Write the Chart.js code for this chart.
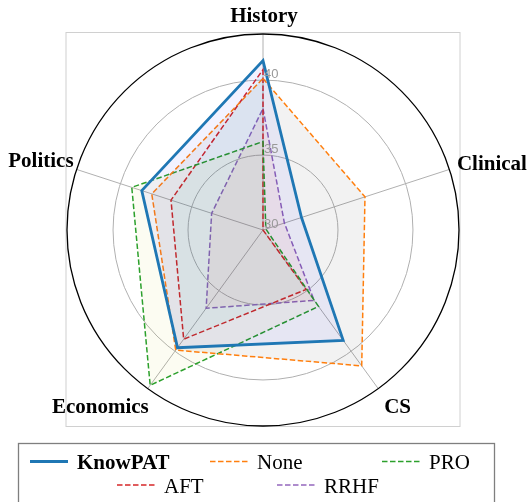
<!DOCTYPE html>
<html><head><meta charset="utf-8">
<script src="https://cdn.jsdelivr.net/npm/chart.js@4/dist/chart.umd.min.js"></script>
<style>html,body{margin:0;padding:0;background:#fff;} canvas{display:block;}</style>
</head><body>
<canvas id="c" width="529" height="502"></canvas>
<script>
const categories = ['History', 'Clinical', 'CS', 'Economics', 'Politics'];
const seriesNames = ['KnowPAT', 'None', 'PRO', 'AFT', 'RRHF'];
const knowpatValues = [41.3, 32.7, 39.1, 39.7, 38.5];
const noneValues = [40.1, 37.15, 41.2, 39.9, 37.8];
const proValues = [35.9, 30.2, 36.3, 42.8, 39.2];
const aftValues = [40.7, 30.0, 34.9, 39.0, 36.45];
const rrhfValues = [38.1, 31.5, 35.8, 36.45, 33.6];
const tickValues = [30, 35, 40];
const rMin = 30, rMax = 43.07;

const lineColors = ['#1f77b4', '#ff7f0e', '#2ca02c', '#d62728', '#9467bd'];
const fillColors = ['rgba(0,0,255,0.05)', 'rgba(0,0,0,0.05)', 'rgba(191,191,0,0.05)', 'rgba(0,191,191,0.05)', 'rgba(255,0,0,0.05)'];
const allValues = [knowpatValues, noneValues, proValues, aftValues, rrhfValues];

const datasets = seriesNames.map((name, i) => ({
  label: name,
  data: allValues[i],
  borderColor: lineColors[i],
  backgroundColor: fillColors[i],
  borderWidth: i === 0 ? 2.8 : 1.5,
  borderDash: i === 0 ? [] : [5.5, 2.5],
  fill: true,
  order: i,
  pointRadius: 0
}));

const decorPlugin = {
  id: 'decor',
  beforeDatasetsDraw(chart) {
    const s = chart.scales.r, ctx = chart.ctx;
    const R = s.drawingArea;
    ctx.save();
    ctx.strokeStyle = '#d0d0d0';
    ctx.lineWidth = 1;
    ctx.strokeRect(s.xCenter - R - 0.5 - 0.5, s.yCenter - R - 1.5, 2 * R + 2, 2 * R + 2);
    ctx.restore();
  },
  afterDraw(chart) {
    const s = chart.scales.r, ctx = chart.ctx;
    const R = s.drawingArea;
    ctx.save();
    ctx.beginPath();
    ctx.arc(s.xCenter, s.yCenter, R, 0, Math.PI * 2);
    ctx.strokeStyle = '#000';
    ctx.lineWidth = 1.3;
    ctx.stroke();
    ctx.font = '13px "Liberation Sans"';
    ctx.fillStyle = '#999999';
    ctx.textAlign = 'left';
    ctx.textBaseline = 'alphabetic';
    tickValues.forEach(v => {
      const d = s.getDistanceFromCenterForValue(v);
      ctx.fillText(String(v), s.xCenter + 1, s.yCenter - d - 2.5);
    });
    ctx.font = 'bold 21px "Liberation Serif"';
    ctx.fillStyle = '#000';
    chart.data.labels.forEach((lab, i) => {
      const p = s.getPointPosition(i, R);
      const dx = p.x - s.xCenter, dy = p.y - s.yCenter;
      let x, y;
      if (Math.abs(dx) < 1) { ctx.textAlign = 'center'; x = p.x + 1; y = p.y - 12.5; }
      else if (dx > 0) { ctx.textAlign = 'left'; x = p.x + (dy < 0 ? 7.5 : 6); y = dy < 0 ? p.y + 1 : p.y + 24.5; }
      else { ctx.textAlign = 'right'; x = p.x + (dy < 0 ? -3 : 1); y = dy < 0 ? p.y - 2 : p.y + 24.5; }
      ctx.fillText(lab, x, y);
    });
    ctx.strokeStyle = '#7f7f7f';
    ctx.lineWidth = 1.3;
    ctx.strokeRect(18.5, 443.5, 476, 80);
    const legendPos = [[30, 461.5], [210, 461.5], [382, 461.5], [117, 485], [277, 485]];
    chart.data.datasets.forEach((ds, i) => {
      const [lx, ly] = legendPos[i];
      ctx.beginPath();
      ctx.setLineDash(ds.borderDash);
      ctx.strokeStyle = ds.borderColor;
      ctx.lineWidth = ds.borderWidth;
      ctx.moveTo(lx, ly); ctx.lineTo(lx + 38, ly);
      ctx.stroke();
      ctx.setLineDash([]);
      ctx.font = (i === 0 ? 'bold ' : '') + '21px "Liberation Serif"';
      ctx.fillStyle = '#000';
      ctx.textAlign = 'left';
      ctx.fillText(ds.label, lx + 47, ly + 7.5);
    });
    ctx.restore();
  }
};

new Chart(document.getElementById('c'), {
  type: 'radar',
  data: { labels: categories, datasets },
  options: {
    responsive: false,
    animation: false,
    layout: { padding: { left: 67, top: 34, right: 69, bottom: 75 } },
    plugins: { legend: { display: false }, tooltip: { enabled: false } },
    elements: { line: { tension: 0 }, point: { radius: 0 } },
    scales: {
      r: {
        min: rMin, max: rMax, startAngle: 0,
        ticks: { display: false, stepSize: 5, includeBounds: false },
        grid: { color: '#b0b0b0', lineWidth: 1, circular: true },
        angleLines: { color: '#b0b0b0', lineWidth: 1 },
        pointLabels: { display: false }
      }
    }
  },
  plugins: [decorPlugin]
});
</script>
</body></html>
